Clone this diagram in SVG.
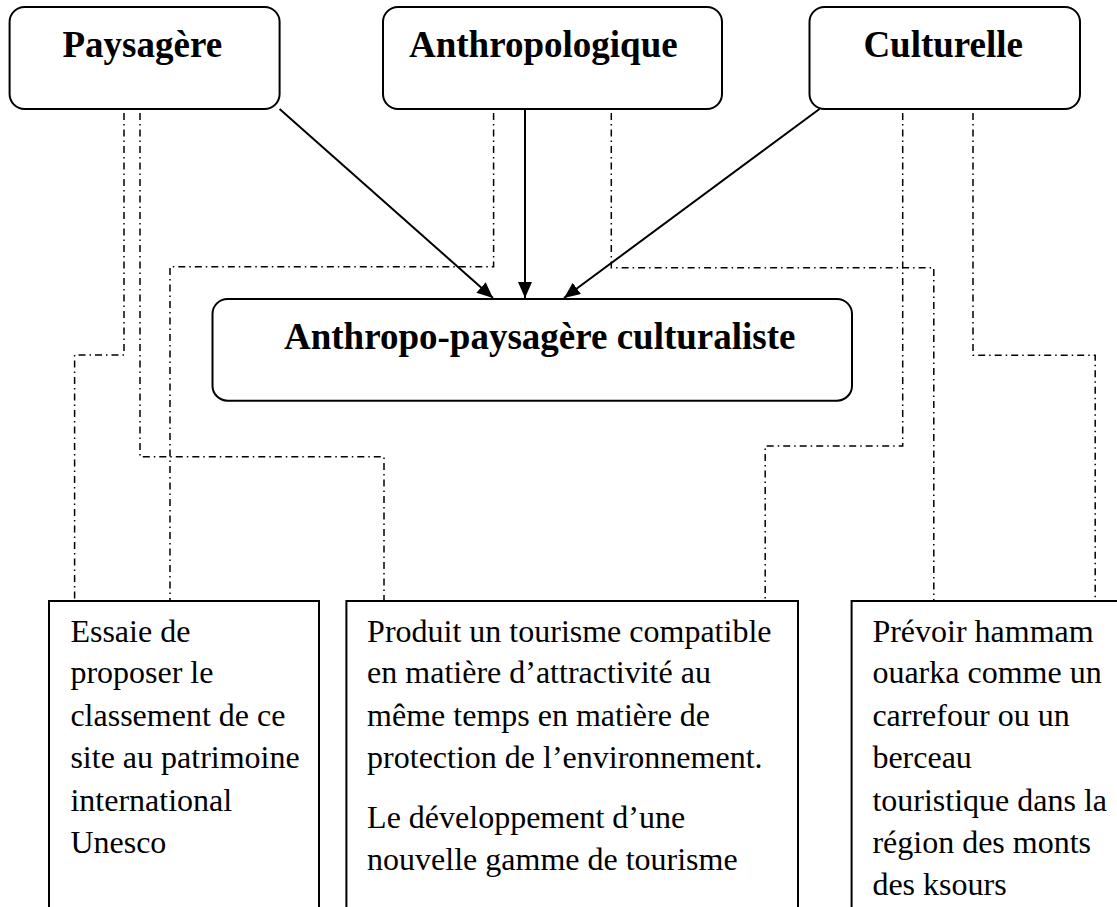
<svg xmlns="http://www.w3.org/2000/svg" width="1117" height="907" viewBox="0 0 1117 907">
<style>
.box{fill:#fff;stroke:#000;stroke-width:2}
.title{font-family:"Liberation Serif","Times New Roman",serif;font-weight:bold;font-size:37px;fill:#000}
.body{font-family:"Liberation Serif","Times New Roman",serif;font-size:32px;fill:#000}
.dd{fill:none;stroke:#000;stroke-width:1.5;stroke-dasharray:7 4 1.5 4}
.arr{fill:none;stroke:#000;stroke-width:2;marker-end:url(#ah)}
</style>
<defs>
<marker id="ah" markerUnits="userSpaceOnUse" markerWidth="18" markerHeight="14" refX="16" refY="7" orient="auto">
<path d="M0,0 L16,7 L0,14 z" fill="#000"/>
</marker>
</defs>
<rect width="1117" height="907" fill="#fff"/>
<g id="connectors">
<path class="dd" d="M124,113 V355 H74.6 V601"/>
<path class="dd" d="M140,113 V456.7 H384 V601"/>
<path class="dd" d="M493.6,113 V266.7 H170 V601"/>
<path class="dd" d="M611.3,113 V267.7 H933.8 V601"/>
<path class="dd" d="M902.7,113 V446 H765.2 V601"/>
<path class="dd" d="M973,113 V355.3 H1095.2 V601"/>
<line class="arr" x1="279.6" y1="109" x2="493" y2="298"/>
<line class="arr" x1="525" y1="109" x2="525" y2="298"/>
<line class="arr" x1="819.5" y1="109" x2="564" y2="298"/>
</g>
<g id="paysagere">
<rect class="box" x="9.6" y="7" width="270" height="102" rx="15" ry="15"/>
<text class="title" x="62.5" y="56.7">Paysagère</text>
</g>
<g id="anthropologique">
<rect class="box" x="383" y="7" width="339" height="102" rx="15" ry="15"/>
<text class="title" x="409" y="56.7">Anthropologique</text>
</g>
<g id="culturelle">
<rect class="box" x="809.5" y="7" width="270.5" height="102" rx="15" ry="15"/>
<text class="title" x="863.4" y="56.7">Culturelle</text>
</g>
<g id="anthropo-paysagere">
<rect class="box" x="212.5" y="299" width="639.5" height="101.7" rx="15" ry="15"/>
<text class="title" x="284" y="349">Anthropo-paysagère culturaliste</text>
</g>
<g id="box-unesco">
<rect class="box" x="49" y="601" width="270" height="330"/>
<text class="body">
<tspan x="70.4" y="641.7">Essaie de</tspan>
<tspan x="70.4" y="683.3">proposer le</tspan>
<tspan x="70.4" y="725.7">classement de ce</tspan>
<tspan x="70.4" y="768.3">site au patrimoine</tspan>
<tspan x="70.4" y="810.7">international</tspan>
<tspan x="70.4" y="853.3">Unesco</tspan>
</text>
</g>
<g id="box-tourisme">
<rect class="box" x="346.4" y="601" width="451.6" height="330"/>
<text class="body">
<tspan x="367.1" y="641.7">Produit un tourisme compatible</tspan>
<tspan x="367.1" y="683.3">en matière d’attractivité au</tspan>
<tspan x="367.1" y="725.7">même temps en matière de</tspan>
<tspan x="367.1" y="768.3">protection de l’environnement.</tspan>
<tspan x="367.1" y="828.3">Le développement d’une</tspan>
<tspan x="367.1" y="870">nouvelle gamme de tourisme</tspan>
</text>
</g>
<g id="box-hammam">
<rect class="box" x="851.6" y="601" width="300" height="330"/>
<text class="body">
<tspan x="872.4" y="641.7">Prévoir hammam</tspan>
<tspan x="872.4" y="683.3">ouarka comme un</tspan>
<tspan x="872.4" y="725.7">carrefour ou un</tspan>
<tspan x="872.4" y="768.3">berceau</tspan>
<tspan x="872.4" y="810.7">touristique dans la</tspan>
<tspan x="872.4" y="853.3">région des monts</tspan>
<tspan x="872.4" y="895">des ksours</tspan>
</text>
</g>
</svg>
